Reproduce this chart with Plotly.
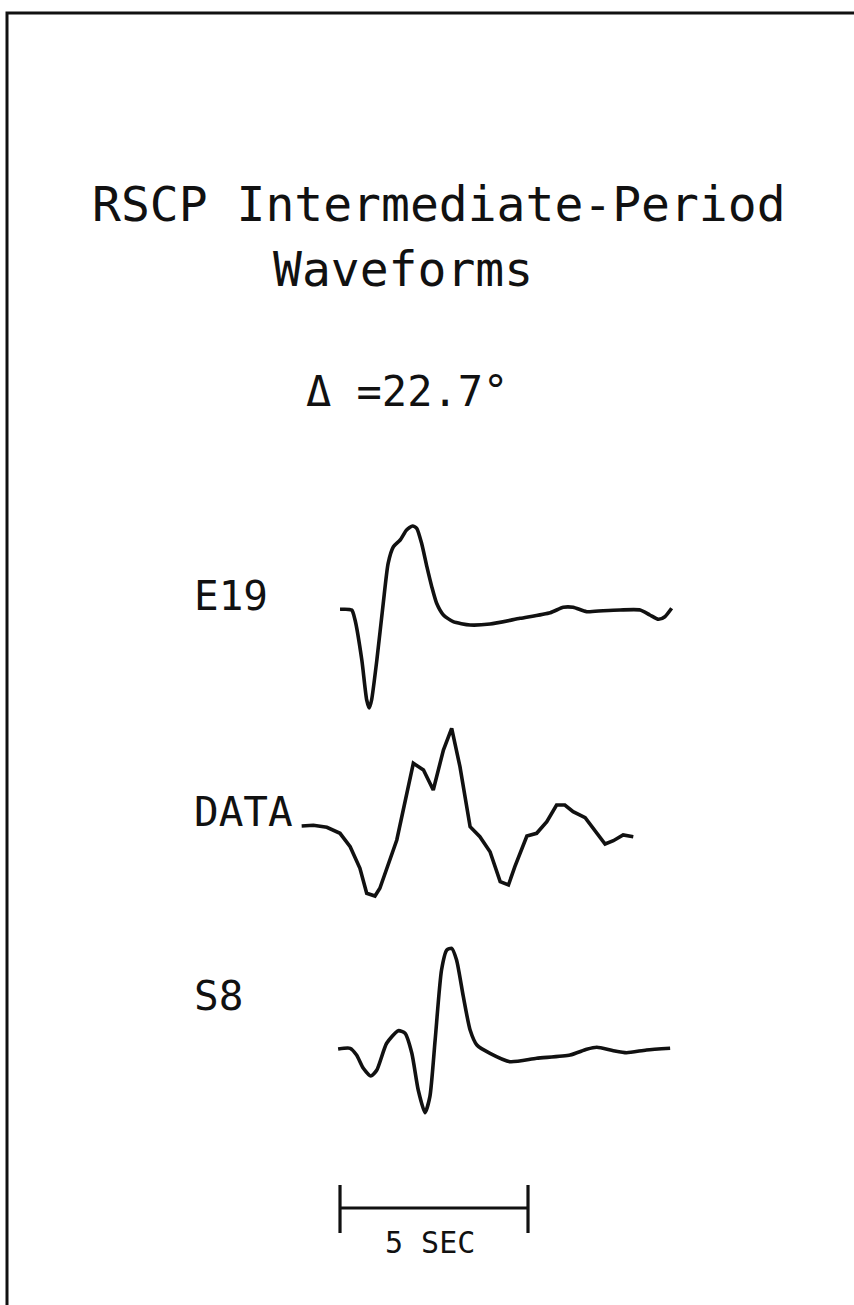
import plotly.graph_objects as go

# ---------------- data (time in seconds, amplitude in relative units) ----------------
E19_T = [0.00, 0.31, 0.40, 0.58, 0.71, 0.78, 0.84, 0.98, 1.15, 1.28, 1.42, 1.60, 1.77, 1.93,
         2.04, 2.17, 2.31, 2.44, 2.57, 2.75, 3.01, 3.46, 3.99, 4.79, 5.59, 5.94, 6.20, 6.56,
         7.00, 7.45, 7.98, 8.24, 8.47, 8.64, 8.82]
E19_A = [0.07, 0.0, -1.0, -5.0, -9.0, -9.8, -9.0, -5.0, 0.67, 4.67, 6.33, 7.0, 8.0, 8.4,
         8.17, 6.67, 4.33, 2.33, 0.67, -0.5, -1.17, -1.5, -1.4, -0.83, -0.27, 0.27, 0.27, -0.17,
         -0.07, 0.0, 0.0, -0.5, -0.93, -0.67, 0.17]

DATA_T = [-1.02, -0.71, -0.35, 0.00, 0.27, 0.53, 0.71, 0.93, 1.06, 1.51, 1.95, 2.22, 2.48,
          2.75, 2.97, 3.19, 3.46, 3.72, 3.99, 4.26, 4.48, 4.65, 4.97, 5.23, 5.50, 5.76, 5.98,
          6.20, 6.52, 6.78, 7.05, 7.27, 7.53, 7.80]
DATA_A = [0.0, 0.07, -0.13, -0.73, -2.07, -4.23, -6.73, -7.0, -6.23, -1.4, 6.27, 5.6, 3.6,
          7.6, 9.77, 5.93, -0.07, -1.07, -2.57, -5.57, -5.9, -4.07, -1.0, -0.73, 0.43, 2.1, 2.1,
          1.43, 0.83, -0.4, -1.8, -1.47, -0.9, -1.07]

S8_T = [-0.05, 0.27, 0.44, 0.62, 0.82, 0.98, 1.24, 1.55, 1.73, 1.91, 2.08, 2.26, 2.39, 2.53,
        2.70, 2.84, 2.97, 3.10, 3.28, 3.46, 3.64, 3.99, 4.52, 5.23, 6.12, 6.56, 6.83, 7.27,
        7.62, 8.15, 8.78]
S8_A = [0.0, 0.07, -0.6, -1.93, -2.7, -2.1, 0.57, 1.83, 1.57, -0.43, -4.1, -6.37, -4.77, 0.9,
        7.9, 9.9, 10.07, 8.9, 5.23, 1.9, 0.4, -0.43, -1.27, -0.93, -0.6, -0.03, 0.17, -0.17,
        -0.37, -0.1, 0.07]

TRACE_NAMES = ["E19", "DATA", "S8"]
TRACE_OFFSETS = [-61.0, -82.6, -104.9]   # vertical position of each trace baseline
LABEL_LEVELS = [-59.6, -81.2, -99.6]     # vertical position of each trace label
TRACE_SMOOTH = [True, False, True]

SCALE_SEC = 5
SCALE_LABEL = "5 SEC"
TITLE_1 = "RSCP Intermediate-Period"
TITLE_2 = "Waveforms"
DELTA_TEXT = "Δ =22.7°"

# ---------------- figure ----------------
W, H = 854, 1305
FONT = "DejaVu Sans Mono"
INK = "#111111"

fig = go.Figure()

series = [(E19_T, E19_A), (DATA_T, DATA_A), (S8_T, S8_A)]
for (t, a), name, off, lab, smooth in zip(series, TRACE_NAMES, TRACE_OFFSETS,
                                          LABEL_LEVELS, TRACE_SMOOTH):
    fig.add_trace(go.Scatter(
        x=t, y=[off + v for v in a], mode="lines", name=name,
        line=dict(color=INK, width=3.6,
                  shape="spline" if smooth else "linear", smoothing=0.6),
        hoverinfo="skip", showlegend=False))
    fig.add_annotation(x=-3.93, y=lab, text=name, showarrow=False,
                       xanchor="left", yanchor="middle",
                       font=dict(family=FONT, size=41, color=INK))

# scale bar
bar_y = -120.8
tick_top, tick_bot = -118.5, -123.3
fig.add_trace(go.Scatter(
    x=[0, 0, None, 0, SCALE_SEC, None, SCALE_SEC, SCALE_SEC],
    y=[tick_top, tick_bot, None, bar_y, bar_y, None, tick_top, tick_bot],
    mode="lines", line=dict(color=INK, width=3.2), hoverinfo="skip", showlegend=False))
fig.add_annotation(x=2.4, y=-124.2, text=SCALE_LABEL, showarrow=False,
                   xanchor="center", yanchor="middle",
                   font=dict(family=FONT, size=30, color=INK))

# titles
fig.add_annotation(xref="paper", yref="paper", x=439 / W, y=1 - 204 / H, text=TITLE_1,
                   showarrow=False, xanchor="center", yanchor="middle",
                   font=dict(family=FONT, size=48, color=INK))
fig.add_annotation(xref="paper", yref="paper", x=403 / W, y=1 - 269 / H, text=TITLE_2,
                   showarrow=False, xanchor="center", yanchor="middle",
                   font=dict(family=FONT, size=48, color=INK))
fig.add_annotation(xref="paper", yref="paper", x=407 / W, y=1 - 392 / H, text=DELTA_TEXT,
                   showarrow=False, xanchor="center", yanchor="middle",
                   font=dict(family=FONT, size=42, color=INK))

# frame
fig.add_shape(type="rect", xref="paper", yref="paper",
              x0=7 / W, y0=-0.01, x1=1.01, y1=1 - 13 / H,
              line=dict(color=INK, width=3))

fig.update_xaxes(range=[-9.043, 13.670], visible=False, fixedrange=True)
fig.update_yaxes(range=[-130.5, 0], visible=False, fixedrange=True)
fig.update_layout(width=W, height=H, margin=dict(l=0, r=0, t=0, b=0),
                  paper_bgcolor="white", plot_bgcolor="white", showlegend=False)

fig.write_html("out.html", config={"displayModeBar": False, "staticPlot": True},
               post_script="document.body.style.margin='0px';")
